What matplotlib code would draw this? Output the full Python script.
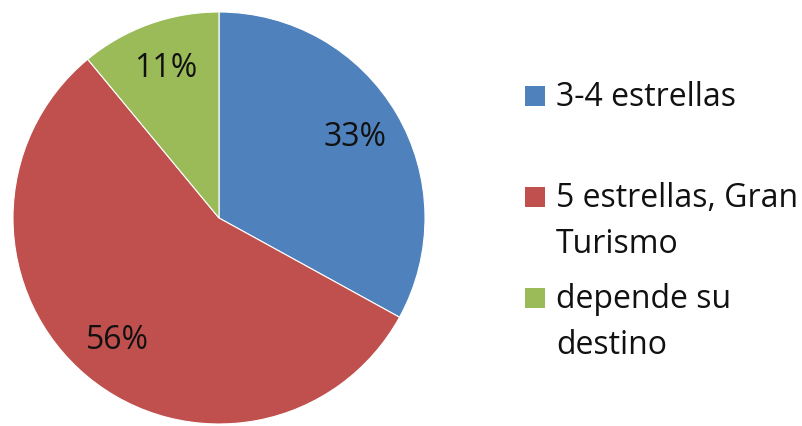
import matplotlib.pyplot as plt
from matplotlib.patches import Rectangle

# Category shares (percent)
categories = ["3-4 estrellas", "5 estrellas, Gran\nTurismo", "depende su\ndestino"]
shares = [33, 56, 11]
colors = ["#4F81BD", "#C0504D", "#9BBB59"]

plt.rcParams["font.family"] = ["Open Sans", "DejaVu Sans"]

W, H = 803, 426
fig = plt.figure(figsize=(W / 100, H / 100), dpi=100)
ax = fig.add_axes([0, 0, 1, 1])

# Pie in pixel units (y up)
wedges, _, autotexts = ax.pie(
    shares,
    colors=colors,
    startangle=90,
    counterclock=False,
    center=(219, H - 218),
    radius=206,
    autopct="%1.0f%%",
    pctdistance=0.77,
    wedgeprops=dict(edgecolor="white", linewidth=0.8),
    textprops=dict(fontsize=23, color="#111111"),
    frame=True,
)

ax.set_xlim(0, W)
ax.set_ylim(0, H)
ax.set_aspect("equal")
ax.axis("off")

# Legend drawn by hand so the swatch sits on the first line of each label
legend_baselines = [106, 207, 308]
line_step = 46
for label, color, base in zip(categories, colors, legend_baselines):
    y = H - base
    ax.add_patch(Rectangle((525, y), 20, 20, facecolor=color, edgecolor="none"))
    for k, line in enumerate(label.split("\n")):
        ax.text(556, y - k * line_step, line, fontsize=23, color="#111111",
                ha="left", va="baseline")

fig.savefig("out.png", dpi=100, facecolor="white")
